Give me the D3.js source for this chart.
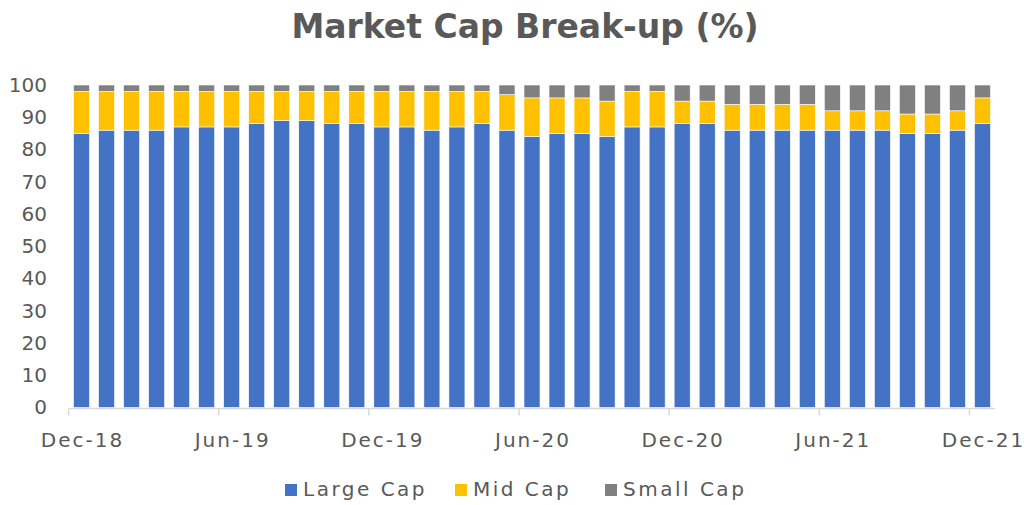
<!DOCTYPE html>
<html>
<head>
<meta charset="utf-8">
<script src="https://cdn.jsdelivr.net/npm/d3@7"></script>
<style>
  body { margin: 0; background: #fff; }
  text { font-family: "DejaVu Sans", sans-serif; fill: #595959; }
</style>
</head>
<body>
<div id="chart"></div>
<script>
// monthly categories Dec-18 .. Dec-21
var months = ["Dec-18","Jan-19","Feb-19","Mar-19","Apr-19","May-19","Jun-19","Jul-19","Aug-19","Sep-19","Oct-19","Nov-19",
  "Dec-19","Jan-20","Feb-20","Mar-20","Apr-20","May-20","Jun-20","Jul-20","Aug-20","Sep-20","Oct-20","Nov-20",
  "Dec-20","Jan-21","Feb-21","Mar-21","Apr-21","May-21","Jun-21","Jul-21","Aug-21","Sep-21","Oct-21","Nov-21","Dec-21"];
var largeCap = [85,86,86,86,87,87,87,88,89,89,88,88, 87,87,86,87,88,86,84,85,85,84,87,87, 88,88,86,86,86,86,86,86,86,85,85,86,88];
var midCap   = [13,12,12,12,11,11,11,10, 9, 9,10,10, 11,11,12,11,10,11,12,11,11,11,11,11,  7, 7, 8, 8, 8, 8, 6, 6, 6, 6, 6, 6, 8];
var smallCap = [ 2, 2, 2, 2, 2, 2, 2, 2, 2, 2, 2, 2,  2, 2, 2, 2, 2, 3, 4, 4, 4, 5, 2, 2,  5, 5, 6, 6, 6, 6, 8, 8, 8, 9, 9, 8, 4];
var seriesNames = ["Large Cap", "Mid Cap", "Small Cap"];
var colors = ["#4472c4", "#ffc000", "#808080"];
var yTicks = [0,10,20,30,40,50,60,70,80,90,100];

var W = 1025, H = 505;
var margin = {top: 85, bottom: 97, left: 69, right: 30};

var svg = d3.select("#chart").append("svg")
  .attr("width", W).attr("height", H);

// title
svg.append("text")
  .attr("x", 525).attr("y", 38)
  .attr("text-anchor", "middle")
  .attr("font-size", "33px")
  .attr("font-weight", "bold")
  .text("Market Cap Break-up (%)");

var x = d3.scaleBand()
  .domain(months)
  .range([margin.left, W - margin.right])
  .paddingInner(0.36).paddingOuter(0.18);

var y = d3.scaleLinear()
  .domain([0, 100])
  .range([H - margin.bottom - 0.5, margin.top]);

// stack the three series
var table = months.map(function(m, i) {
  return {month: m, "Large Cap": largeCap[i], "Mid Cap": midCap[i], "Small Cap": smallCap[i]};
});
var stacked = d3.stack().keys(seriesNames)(table);

svg.append("g").selectAll("g")
  .data(stacked)
  .join("g")
  .attr("fill", function(d, i) { return colors[i]; })
  .selectAll("rect")
  .data(function(d) { return d; })
  .join("rect")
  .attr("x", function(d) { return x(d.data.month); })
  .attr("width", x.bandwidth())
  .attr("y", function(d) { return y(d[1]); })
  .attr("height", function(d) { return y(d[0]) - y(d[1]); })
  .attr("stroke", "#fff").attr("stroke-width", 0.6);

// y axis labels, no line
var yAxis = svg.append("g")
  .attr("transform", "translate(" + (margin.left - 22) + ",0)")
  .call(d3.axisLeft(y).tickValues(yTicks).tickSize(0).tickPadding(0));
yAxis.select(".domain").remove();
yAxis.selectAll("text")
  .attr("font-size", "20px")
  .attr("fill", "#595959")
  .attr("font-family", "DejaVu Sans, sans-serif");

// x axis: line + boundary ticks every 6 months
var baseY = H - margin.bottom + 0.5;
var step = x.step();
svg.append("line")
  .attr("x1", margin.left).attr("x2", W - margin.right)
  .attr("y1", baseY).attr("y2", baseY)
  .attr("stroke", "#d9d9d9").attr("stroke-width", 1.5);

var labelIdx = d3.range(0, months.length, 6);
svg.append("g").selectAll("line")
  .data(labelIdx)
  .join("line")
  .attr("x1", function(i) { return x(months[i]) - step * x.paddingInner() / 2 - 0.5; })
  .attr("x2", function(i) { return x(months[i]) - step * x.paddingInner() / 2 - 0.5; })
  .attr("y1", baseY).attr("y2", baseY + 7)
  .attr("stroke", "#d9d9d9").attr("stroke-width", 1.5);

svg.append("g").selectAll("text")
  .data(labelIdx)
  .join("text")
  .attr("x", function(i) { return x(months[i]) + x.bandwidth() / 2 + 1; })
  .attr("y", 447)
  .attr("text-anchor", "middle")
  .attr("font-size", "20px")
  .attr("letter-spacing", "2px")
  .text(function(i) { return months[i]; });

// legend
var legendX = [285, 455, 605];
var legend = svg.append("g").selectAll("g")
  .data(seriesNames)
  .join("g")
  .attr("transform", function(d, i) { return "translate(" + legendX[i] + ",484)"; });
legend.append("rect")
  .attr("width", 12).attr("height", 12)
  .attr("fill", function(d, i) { return colors[i]; });
legend.append("text")
  .attr("x", 18).attr("y", 12)
  .attr("font-size", "20px")
  .attr("letter-spacing", "2.5px")
  .text(function(d) { return d; });
</script>
</body>
</html>
